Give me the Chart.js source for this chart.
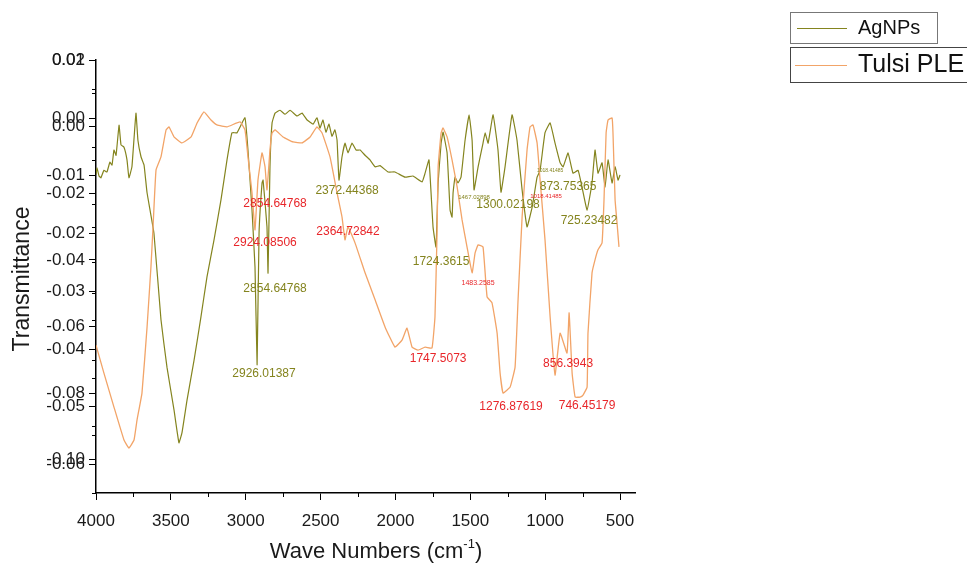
<!DOCTYPE html>
<html>
<head>
<meta charset="utf-8">
<script src="https://cdn.jsdelivr.net/npm/chart.js@4.4.1/dist/chart.umd.min.js"></script>
<style>
html, body { margin: 0; padding: 0; background: #fff; }
</style>
</head>
<body>
<canvas id="myChart" width="967" height="567"></canvas>
<script>
// AgNPs spectrum (second, hidden axis)
var agWave = [4000, 3993, 3980, 3967, 3947, 3927, 3907, 3893, 3880, 3866, 3846, 3833, 3813, 3793, 3780, 3760, 3733, 3720, 3699, 3679,
  3659, 3613, 3566, 3526, 3479, 3446, 3426, 3392, 3345, 3299, 3259, 3212, 3165, 3125, 3092, 3058, 3005, 2985, 2958, 2938,
  2924, 2911, 2891, 2884, 2858, 2851, 2838, 2824, 2804, 2771, 2737, 2704, 2657, 2624, 2590, 2550, 2524, 2504, 2484, 2464,
  2444, 2424, 2404, 2390, 2377, 2357, 2337, 2317, 2290, 2263, 2236, 2203, 2170, 2136, 2103, 2049, 2003, 1936, 1883, 1822,
  1802, 1776, 1749, 1729, 1715, 1695, 1682, 1655, 1635, 1622, 1615, 1602, 1582, 1562, 1535, 1508, 1488, 1475, 1448, 1415,
  1401, 1381, 1348, 1315, 1295, 1268, 1221, 1188, 1154, 1121, 1087, 1054, 1034, 1001, 967, 934, 900, 880, 847, 814,
  780, 754, 720, 687, 667, 647, 620, 600, 580, 553, 533, 513, 500];
var agT = [-0.0099, -0.0087, -0.0101, -0.0104, -0.0091, -0.0094, -0.0077, -0.0082, -0.0056, -0.0065, -0.0013, -0.0047, -0.0051, -0.0073, -0.0104, -0.0085, 0.0008, -0.0039, -0.0068, -0.0082,
  -0.0130, -0.0200, -0.0350, -0.0432, -0.0506, -0.0563, -0.0546, -0.0489, -0.0420, -0.0345, -0.0276, -0.0212, -0.0142, -0.0073, -0.0026, -0.0026, 0.0000, -0.0056, -0.0160, -0.0259,
  -0.0428, -0.0200, -0.0113, -0.0108, -0.0189, -0.0269, -0.0085, -0.0009, 0.0008, 0.0013, 0.0006, 0.0013, 0.0003, 0.0008, -0.0004, -0.0011, 0.0000, -0.0018, -0.0004, -0.0025,
  -0.0011, -0.0032, -0.0021, -0.0039, -0.0108, -0.0068, -0.0044, -0.0061, -0.0044, -0.0056, -0.0056, -0.0065, -0.0073, -0.0085, -0.0083, -0.0094, -0.0094, -0.0103, -0.0101, -0.0111,
  -0.0096, -0.0073, -0.0189, -0.0224, -0.0113, -0.0044, -0.0025, -0.0061, -0.0160, -0.0172, -0.0130, -0.0103, -0.0113, -0.0103, -0.0039, 0.0005, -0.0039, -0.0125, -0.0085, -0.0044,
  -0.0026, -0.0044, 0.0005, -0.0056, -0.0129, -0.0085, 0.0005, -0.0039, -0.0125, -0.0189, -0.0155, -0.0103, -0.0091, -0.0026, -0.0009, -0.0044, -0.0078, -0.0085, -0.0061, -0.0096,
  -0.0091, -0.0120, -0.0160, -0.0113, -0.0056, -0.0096, -0.0078, -0.0120, -0.0073, -0.0113, -0.0085, -0.0108, -0.0099];

// Tulsi PLE spectrum (left axis)
var tulsiWave = [4000, 3947, 3880, 3813, 3780, 3746, 3726, 3693, 3659, 3633, 3619, 3599, 3566, 3532, 3512, 3479, 3426, 3365, 3325, 3279,
  3232, 3192, 3125, 3038, 3005, 2985, 2958, 2938, 2918, 2891, 2871, 2858, 2838, 2824, 2804, 2751, 2684, 2624, 2570, 2524,
  2490, 2437, 2390, 2357, 2337, 2317, 2270, 2203, 2136, 2069, 2003, 1956, 1923, 1889, 1849, 1802, 1756, 1736, 1722, 1715,
  1695, 1682, 1655, 1622, 1588, 1555, 1522, 1488, 1468, 1448, 1415, 1388, 1355, 1321, 1301, 1281, 1234, 1201, 1181, 1154,
  1121, 1101, 1081, 1054, 1034, 1001, 967, 934, 900, 854, 840, 820, 800, 767, 747, 720, 714, 687, 667, 647,
  620, 607, 593, 580, 553, 547, 533, 520, 507];
var tulsiT = [-0.0656, -0.0740, -0.0842, -0.0941, -0.0965, -0.0941, -0.0881, -0.0800, -0.0602, -0.0421, -0.0301, -0.0130, -0.0091, -0.0010, -0.0001, -0.0031, -0.0049, -0.0031, 0.0011, 0.0044,
  0.0020, 0.0005, -0.0001, 0.0014, -0.0010, -0.0091, -0.0199, -0.0310, -0.0160, -0.0079, -0.0121, -0.0190, -0.0070, -0.0019, -0.0010, -0.0031, -0.0046, -0.0049, -0.0031, -0.0001,
  -0.0019, -0.0091, -0.0199, -0.0271, -0.0340, -0.0301, -0.0349, -0.0439, -0.0520, -0.0602, -0.0662, -0.0641, -0.0605, -0.0662, -0.0671, -0.0662, -0.0665, -0.0571, -0.0319, -0.0121,
  -0.0019, -0.0004, -0.0031, -0.0100, -0.0181, -0.0280, -0.0361, -0.0439, -0.0379, -0.0355, -0.0361, -0.0511, -0.0529, -0.0620, -0.0740, -0.0800, -0.0782, -0.0722, -0.0520, -0.0271,
  -0.0070, -0.0001, 0.0005, -0.0049, -0.0160, -0.0340, -0.0571, -0.0746, -0.0620, -0.0680, -0.0559, -0.0740, -0.0812, -0.0812, -0.0806, -0.0782, -0.0620, -0.0439, -0.0400, -0.0370,
  -0.0349, -0.0220, -0.0019, 0.0020, 0.0026, -0.0019, -0.0220, -0.0289, -0.0361];

var xTicks = [4000, 3500, 3000, 2500, 2000, 1500, 1000, 500];
var tulsiTicks = [0.02, 0, -0.02, -0.04, -0.06, -0.08, -0.10];
var agTicks = [0.01, 0, -0.01, -0.02, -0.03, -0.04, -0.05, -0.06];

var olive = '#84841e';
var orange = '#f2a468';
var red = '#e8262a';
var font = '"Liberation Sans", Arial, sans-serif';

// peak labels, placed on the Tulsi axis
var peaks = [
  { t: '2854.64768', w: 2804, v: -0.0232, c: red, s: 12 },
  { t: '2924.08506', w: 2871, v: -0.0349, c: red, s: 12 },
  { t: '2854.64768', w: 2804, v: -0.0487, c: olive, s: 12 },
  { t: '2926.01387', w: 2878, v: -0.0743, c: olive, s: 12 },
  { t: '2372.44368', w: 2323, v: -0.0193, c: olive, s: 12 },
  { t: '2364.72842', w: 2317, v: -0.0316, c: red, s: 12 },
  { t: '1724.3615', w: 1695, v: -0.0406, c: olive, s: 12 },
  { t: '1483.2585', w: 1448, v: -0.0469, c: red, s: 7 },
  { t: '1467.02898', w: 1475, v: -0.0211, c: olive, s: 6 },
  { t: '1300.02198', w: 1248, v: -0.0235, c: olive, s: 12 },
  { t: '1018.41485', w: 967, v: -0.0133, c: olive, s: 5 },
  { t: '1018.41485', w: 994, v: -0.0208, c: red, s: 6 },
  { t: '873.75365', w: 847, v: -0.0181, c: olive, s: 12 },
  { t: '725.23482', w: 707, v: -0.0283, c: olive, s: 12 },
  { t: '1747.5073', w: 1715, v: -0.0698, c: red, s: 12 },
  { t: '856.3943', w: 847, v: -0.0713, c: red, s: 12 },
  { t: '1276.87619', w: 1228, v: -0.0842, c: red, s: 12 },
  { t: '746.45179', w: 720, v: -0.0839, c: red, s: 12 }
];

function pairs(xs, ys) {
  return xs.map(function (x, i) { return { x: x, y: ys[i] }; });
}

var overlay = {
  id: 'overlay',
  afterDraw: function (chart) {
    var ctx = chart.ctx;
    var xs = chart.scales.x, yA = chart.scales.yA, yB = chart.scales.yB;
    var area = chart.chartArea;
    var i, p;
    ctx.save();
    ctx.strokeStyle = '#000';
    ctx.lineWidth = 1;

    // minor ticks
    ctx.beginPath();
    for (i = 3750; i >= 750; i -= 500) {
      p = Math.round(xs.getPixelForValue(i)) + 0.5;
      ctx.moveTo(p, area.bottom); ctx.lineTo(p, area.bottom + 4);
    }
    for (i = 0.01; i > -0.115; i -= 0.02) {
      p = Math.round(yA.getPixelForValue(i)) + 0.5;
      ctx.moveTo(area.left - 4, p); ctx.lineTo(area.left, p);
    }
    for (i = 0.005; i > -0.066; i -= 0.01) {
      p = Math.round(yB.getPixelForValue(i)) + 0.5;
      ctx.moveTo(area.left - 4, p); ctx.lineTo(area.left, p);
    }
    ctx.stroke();

    // second axis, drawn on top of the first one
    ctx.font = '17px ' + font;
    ctx.fillStyle = '#1a1a1a';
    ctx.textAlign = 'right';
    ctx.textBaseline = 'middle';
    ctx.beginPath();
    agTicks.forEach(function (v) {
      var py = Math.round(yB.getPixelForValue(v)) + 0.5;
      ctx.fillText(v.toFixed(2), area.left - 11, py);
      ctx.moveTo(area.left - 7, py); ctx.lineTo(area.left, py);
    });
    ctx.stroke();

    // peak labels
    ctx.textAlign = 'center';
    peaks.forEach(function (pk) {
      ctx.font = pk.s + 'px ' + font;
      ctx.fillStyle = pk.c;
      ctx.fillText(pk.t, xs.getPixelForValue(pk.w), yA.getPixelForValue(pk.v));
    });

    // axis titles
    ctx.fillStyle = '#1a1a1a';
    ctx.font = '23px ' + font;
    ctx.save();
    ctx.translate(23, 279);
    ctx.rotate(-Math.PI / 2);
    ctx.fillText('Transmittance', 0, 0);
    ctx.restore();

    var main = 'Wave Numbers (cm', sup = '-1', end = ')';
    ctx.font = '22px ' + font;
    var w1 = ctx.measureText(main).width, w3 = ctx.measureText(end).width;
    ctx.font = '13px ' + font;
    var w2 = ctx.measureText(sup).width;
    var sx = 376 - (w1 + w2 + w3) / 2;
    ctx.textAlign = 'left';
    ctx.font = '22px ' + font;
    ctx.fillText(main, sx, 552);
    ctx.fillText(end, sx + w1 + w2, 552);
    ctx.font = '13px ' + font;
    ctx.fillText(sup, sx + w1, 544);

    // legend boxes
    ctx.lineWidth = 1;
    ctx.strokeStyle = '#777';
    ctx.strokeRect(790.5, 12.5, 147, 31);
    ctx.strokeStyle = '#444';
    ctx.strokeRect(790.5, 47.5, 180, 35);
    ctx.strokeStyle = olive;
    ctx.beginPath(); ctx.moveTo(797, 28.5); ctx.lineTo(847, 28.5); ctx.stroke();
    ctx.strokeStyle = orange;
    ctx.beginPath(); ctx.moveTo(795, 65.5); ctx.lineTo(847, 65.5); ctx.stroke();
    ctx.fillStyle = '#111';
    ctx.textBaseline = 'middle';
    ctx.font = '20px ' + font;
    ctx.fillText('AgNPs', 858, 28);
    ctx.font = '25px ' + font;
    ctx.fillText('Tulsi PLE', 858, 65);
    ctx.restore();
  }
};

var ctx = document.getElementById('myChart');
var myChart = new Chart(ctx, {
  type: 'line',
  data: {
    datasets: [{
      label: 'Tulsi PLE',
      data: pairs(tulsiWave, tulsiT),
      yAxisID: 'yA',
      borderColor: orange,
      borderWidth: 1.3,
      pointRadius: 0,
      tension: 0.1
    }, {
      label: 'AgNPs',
      data: pairs(agWave, agT),
      yAxisID: 'yB',
      borderColor: olive,
      borderWidth: 1.2,
      pointRadius: 0,
      tension: 0.1
    }]
  },
  options: {
    responsive: false,
    maintainAspectRatio: false,
    animation: false,
    layout: { padding: { left: 0, right: 332, top: 60, bottom: 0 } },
    plugins: { legend: { display: false }, tooltip: { enabled: false } },
    scales: {
      x: {
        type: 'linear',
        reverse: true,
        min: 400,
        max: 4000,
        afterBuildTicks: function (s) { s.ticks = xTicks.map(function (v) { return { value: v }; }); },
        afterFit: function (s) { s.height = 74; },
        ticks: {
          color: '#1a1a1a',
          font: { family: font, size: 17 },
          padding: 11,
          maxRotation: 0,
          autoSkip: false,
          callback: function (v) { return String(v); }
        },
        grid: { drawOnChartArea: false, drawTicks: true, tickLength: 7, color: '#000', lineWidth: 1 },
        border: { display: true, color: '#000', width: 1.5 }
      },
      yA: {
        type: 'linear',
        position: 'left',
        min: -0.11,
        max: 0.02,
        afterBuildTicks: function (s) { s.ticks = tulsiTicks.map(function (v) { return { value: v }; }); },
        afterFit: function (s) { s.width = 96; },
        ticks: {
          color: '#1a1a1a',
          font: { family: font, size: 17 },
          padding: 4,
          autoSkip: false,
          callback: function (v) { return v.toFixed(2); }
        },
        grid: { drawOnChartArea: false, drawTicks: true, tickLength: 7, color: '#000', lineWidth: 1 },
        border: { display: true, color: '#000', width: 1.5 }
      },
      yB: {
        type: 'linear',
        display: false,
        min: -0.065,
        max: 0.01
      }
    }
  },
  plugins: [overlay]
});
</script>
</body>
</html>
